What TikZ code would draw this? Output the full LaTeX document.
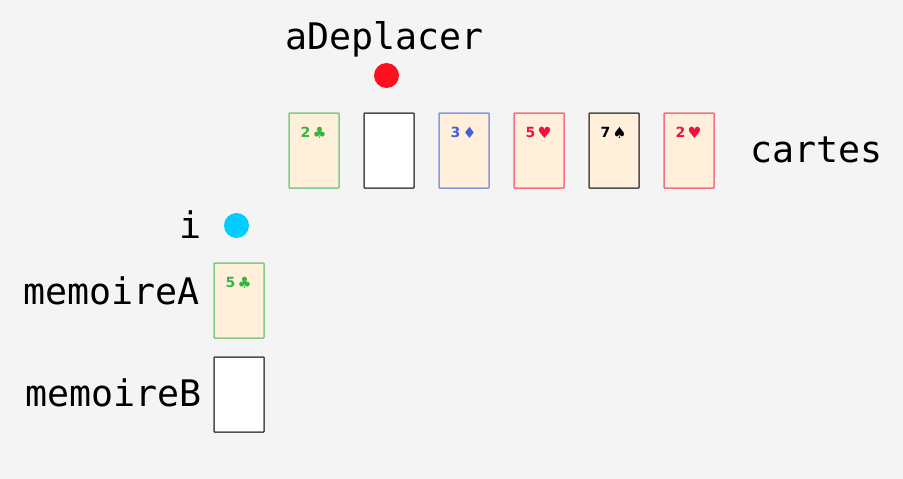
\documentclass[tikz,border=0pt]{standalone}
\usepackage{fontspec}
\newfontfamily\lblfont{DejaVu Sans Mono}
\newfontfamily\cardfont{DejaVu Sans Bold}
\definecolor{bgc}{HTML}{F4F4F4}
\definecolor{cardc}{HTML}{FFEFDB}
\definecolor{gc}{HTML}{33B540}
\definecolor{gb}{HTML}{80CC88}
\definecolor{rc}{HTML}{F5103F}
\definecolor{rb}{HTML}{F57088}
\definecolor{bc}{HTML}{4060DD}
\definecolor{bb}{HTML}{8498E8}
\definecolor{kb}{HTML}{505050}
\definecolor{dotr}{HTML}{FF1020}
\definecolor{dotc}{HTML}{00CCFF}
\tikzset{x=1pt,y=-1pt,
 cardbox/.style={minimum width=50pt,minimum height=75pt,inner sep=0pt,outer sep=0pt,line width=1.5pt,rounded corners=0.8pt,anchor=north west},
 face/.style={cardbox,fill=cardc},
 blank/.style={cardbox,fill=white,draw=kb},
 lbl/.style={font=\lblfont\fontsize{36.6}{36.6}\selectfont,inner sep=0pt,text=black},
 pip/.style={font=\cardfont\fontsize{14}{14}\selectfont,inner sep=0pt},
 suit/.style={font=\cardfont\fontsize{15.5}{15.5}\selectfont,inner sep=0pt,anchor=center},
 marker/.style={circle,minimum size=25pt,inner sep=0pt,outer sep=0pt}}
\newcommand{\cardtext}[4]{%
 \node[pip,text=#1,anchor=base west] at (#2,137.3) {#3};
 \node[suit,text=#1] at (#2+19,132.6) {#4};}
\begin{document}
\begin{tikzpicture}
\useasboundingbox[fill=bgc] (0,0) rectangle (903,479);
\node[face,draw=gb] (c1) at (289,113) {};
\node[blank] (c2) at (364,113) {};
\node[face,draw=bb] (c3) at (439,113) {};
\node[face,draw=rb] (c4) at (514,113) {};
\node[face,draw=kb] (c5) at (589,113) {};
\node[face,draw=rb] (c6) at (664,113) {};
\node[face,draw=gb] (m1) at (214,263) {};
\node[blank] (m2) at (214,357) {};
\cardtext{gc}{300.5}{2}{♣}
\cardtext{bc}{450.5}{3}{♦}
\cardtext{rc}{525.5}{5}{♥}
\cardtext{black}{600.5}{7}{♠}
\cardtext{rc}{675.5}{2}{♥}
\node[pip,text=gc,anchor=base west] (m1n) at (225.5,287.3) {5};
\node[suit,text=gc] (m1s) at (244.5,282.6) {♣};
\node[marker,fill=dotr] (d1) at (386.5,75.5) {};
\node[marker,fill=dotc] (d2) at (236.5,225.5) {};
\node[lbl,anchor=base west] (t1) at (285,49) {aDeplacer};
\node[lbl,anchor=base west] (t2) at (750,162) {cartes};
\node[lbl,anchor=base west] (t3) at (179,238) {i};
\node[lbl,anchor=base west] (t4) at (23,304) {memoireA};
\node[lbl,anchor=base west] (t5) at (25.5,406) {memoireB};
\end{tikzpicture}
\end{document}
